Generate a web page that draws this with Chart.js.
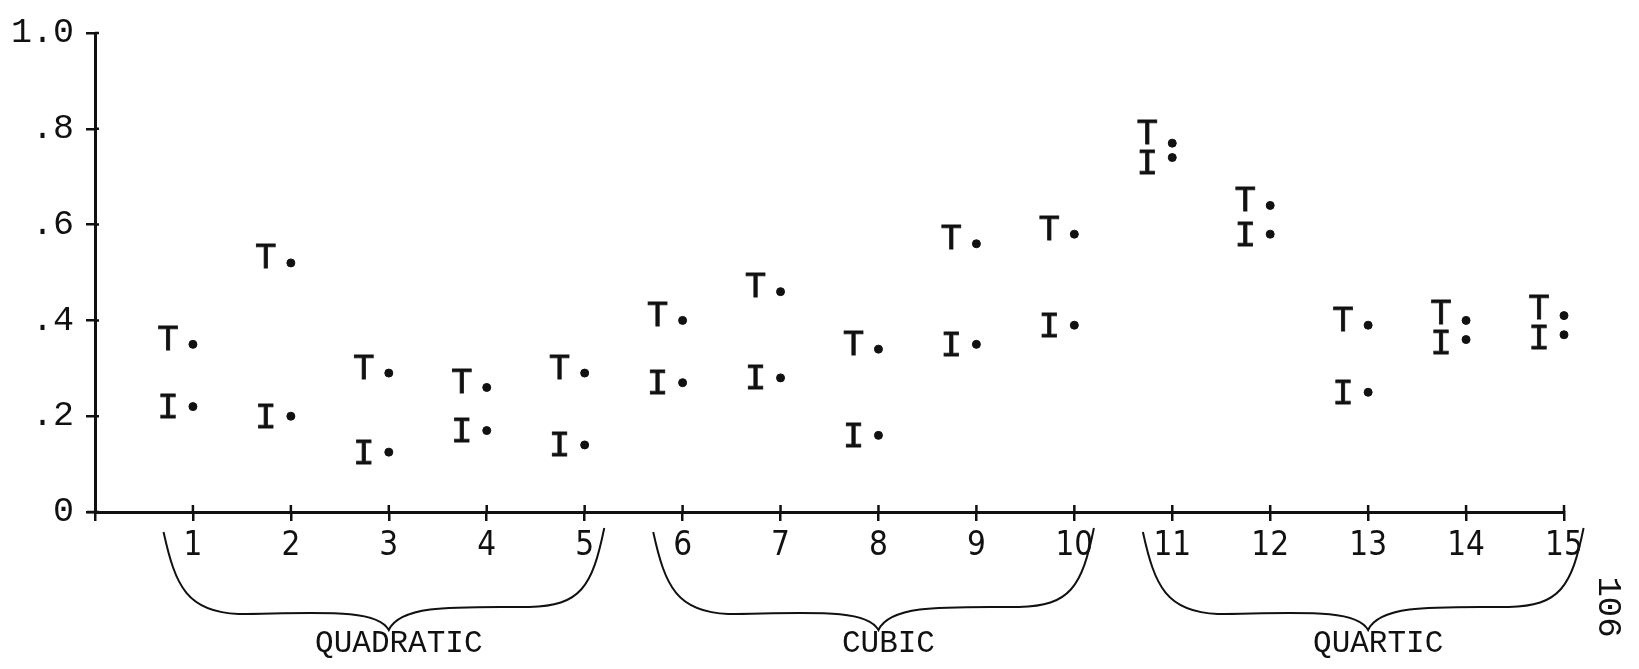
<!DOCTYPE html>
<html>
<head>
<meta charset="utf-8">
<script src="https://cdn.jsdelivr.net/npm/chart.js@4.4.1/dist/chart.umd.min.js"></script>
<style>
  html, body { margin: 0; padding: 0; background: #fff; }
</style>
</head>
<body>
<canvas id="plot" width="1639" height="669"></canvas>
<script>
// problem numbers along the bottom axis
const problems = [1, 2, 3, 4, 5, 6, 7, 8, 9, 10, 11, 12, 13, 14, 15];
// proportions marked T and I for each problem
const tValues = [0.35, 0.52, 0.29, 0.26, 0.29, 0.40, 0.46, 0.34, 0.56, 0.58, 0.77, 0.64, 0.39, 0.40, 0.41];
const iValues = [0.22, 0.20, 0.125, 0.17, 0.14, 0.27, 0.28, 0.16, 0.35, 0.39, 0.74, 0.58, 0.25, 0.36, 0.37];

const yTicks = [0, 0.2, 0.4, 0.6, 0.8, 1.0];
const yTickLabels = ['0', '.2', '.4', '.6', '.8', '1.0'];

// problem groups shown with braces under the axis
const groupNames = ['QUADRATIC', 'CUBIC', 'QUARTIC'];
const groupFirst = [1, 6, 11];
const groupLast = [5, 10, 15];

const pageNumber = '106';

const INK = '#111';
const MONO = '"Liberation Mono", "DejaVu Sans Mono", monospace';
const NARROW = '"Liberation Sans Narrow", "DejaVu Sans Condensed", sans-serif';

// letter written beside each dot; T sits a little above, I a little below,
// and the pair is spread apart where the two dots nearly coincide
const letterPlugin = {
  id: 'letters',
  afterDatasetsDraw(chart) {
    const ctx = chart.ctx;
    const tPts = chart.getDatasetMeta(0).data;
    const iPts = chart.getDatasetMeta(1).data;
    ctx.save();
    ctx.fillStyle = INK;
    ctx.strokeStyle = INK;
    ctx.lineWidth = 0.8;
    ctx.font = '36px ' + MONO;
    ctx.textAlign = 'center';
    ctx.textBaseline = 'middle';
    tPts.forEach((tp, k) => {
      const ip = iPts[k];
      let ty = tp.y - 4;
      let iy = ip.y + 2;
      const gap = iy - ty;
      if (gap < 30) {
        const mid = (ty + iy) / 2;
        ty = mid - 15;
        iy = mid + 15;
      }
      ctx.fillText('T', tp.x - 25, ty);
      ctx.strokeText('T', tp.x - 25, ty);
      ctx.fillText('I', ip.x - 25, iy);
      ctx.strokeText('I', ip.x - 25, iy);
    });
    ctx.restore();
  }
};

function drawBrace(ctx, L, R, C, top, flat, cusp) {
  ctx.beginPath();
  ctx.moveTo(L, top);
  ctx.bezierCurveTo(L + 12, top + 55, L + 24, flat, L + 75, flat + 2);
  ctx.bezierCurveTo(C - 70, flat + 1, C - 12, flat - 4, C, cusp);
  ctx.bezierCurveTo(C + 12, flat - 8, C + 70, flat - 5, R - 75, flat - 5);
  ctx.bezierCurveTo(R - 24, flat - 6, R - 12, top + 55, R, top - 4);
  ctx.stroke();
}

// braces, group names, tick stubs inside the axes and the page number
const decorPlugin = {
  id: 'decor',
  afterDraw(chart) {
    const ctx = chart.ctx;
    const area = chart.chartArea;
    const xs = chart.scales.x;
    const ys = chart.scales.y;
    ctx.save();
    ctx.strokeStyle = INK;
    ctx.fillStyle = INK;

    ctx.lineWidth = 2.5;
    ctx.beginPath();
    xs.ticks.forEach(t => {
      if (t.value === 0) return;
      const px = xs.getPixelForValue(t.value);
      ctx.moveTo(px, area.bottom);
      ctx.lineTo(px, area.bottom - 7);
    });
    ys.ticks.forEach(t => {
      const py = ys.getPixelForValue(t.value);
      ctx.moveTo(area.left, py);
      ctx.lineTo(area.left + 4, py);
    });
    // axis runs a little past the origin
    ctx.moveTo(area.left - 8, area.bottom);
    ctx.lineTo(area.left, area.bottom);
    ctx.stroke();

    ctx.lineWidth = 2;
    ctx.font = '31px ' + MONO;
    ctx.textAlign = 'center';
    ctx.textBaseline = 'middle';
    groupNames.forEach((name, g) => {
      const L = xs.getPixelForValue(groupFirst[g] - 0.3);
      const R = xs.getPixelForValue(groupLast[g] + 0.2);
      const C = xs.getPixelForValue((groupFirst[g] + groupLast[g]) / 2);
      drawBrace(ctx, L, R, C, area.bottom + 20, area.bottom + 100, area.bottom + 118);
      ctx.fillText(name, C + 10, area.bottom + 132);
    });

    ctx.font = '34px ' + MONO;
    ctx.translate(chart.width - 31, area.bottom + 95);
    ctx.rotate(Math.PI / 2);
    ctx.fillText(pageNumber, 0, 0);
    ctx.restore();
  }
};

function yLabel(v) {
  const k = yTicks.findIndex(t => Math.abs(t - v) < 1e-6);
  return k >= 0 ? yTickLabels[k] : '';
}

const ctx = document.getElementById('plot').getContext('2d');
new Chart(ctx, {
  type: 'scatter',
  data: {
    datasets: [
      {
        label: 'T',
        data: problems.map((p, i) => ({ x: p, y: tValues[i] })),
        pointRadius: 4,
        clip: false,
        backgroundColor: INK,
        borderColor: INK
      },
      {
        label: 'I',
        data: problems.map((p, i) => ({ x: p, y: iValues[i] })),
        pointRadius: 4,
        clip: false,
        backgroundColor: INK,
        borderColor: INK
      }
    ]
  },
  options: {
    responsive: false,
    animation: false,
    layout: { padding: { top: 24, right: 75, left: 0, bottom: 0 } },
    plugins: {
      legend: { display: false },
      tooltip: { enabled: false }
    },
    scales: {
      x: {
        type: 'linear',
        min: 0,
        max: 15,
        afterFit(scale) { scale.height = 157; },
        ticks: {
          stepSize: 1,
          autoSkip: false,
          maxRotation: 0,
          padding: 6,
          color: INK,
          font: { family: NARROW, size: 33 },
          callback: v => (v === 0 ? '' : String(v))
        },
        grid: { drawOnChartArea: false, tickLength: 9, color: INK, lineWidth: 2.5 },
        border: { color: INK, width: 3 }
      },
      y: {
        min: 0,
        max: 1,
        afterFit(scale) { scale.width = 95; },
        ticks: {
          stepSize: 0.2,
          padding: 12,
          color: INK,
          font: { family: MONO, size: 35 },
          callback: yLabel
        },
        grid: { drawOnChartArea: false, tickLength: 9, color: INK, lineWidth: 2.5 },
        border: { color: INK, width: 3 }
      }
    }
  },
  plugins: [letterPlugin, decorPlugin]
});
</script>
</body>
</html>
